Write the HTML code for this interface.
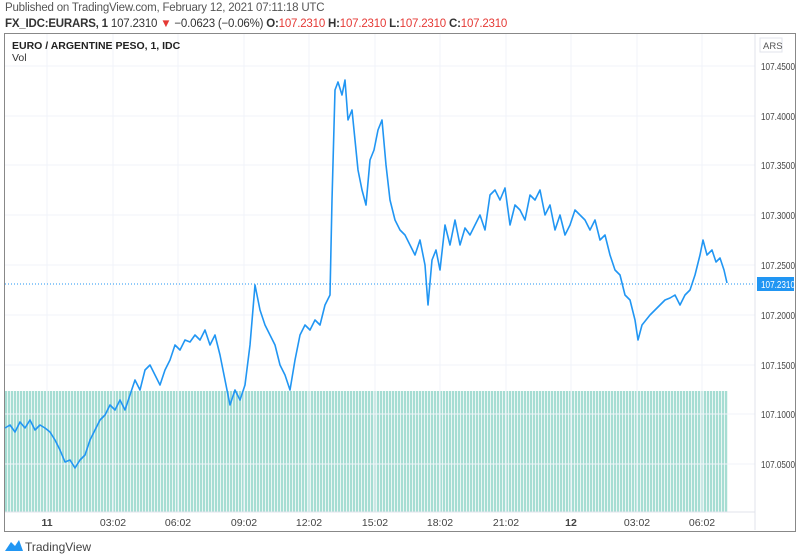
<!DOCTYPE html>
<html><head><style>
body{margin:0;width:800px;height:560px;background:#fff;font-family:"Liberation Sans",sans-serif;position:relative;overflow:hidden}
.t{position:absolute;white-space:nowrap}
</style></head><body>
<div class="t" style="left:5px;top:2px;font-size:11.5px;color:#555;letter-spacing:-0.2px">Published on TradingView.com, February 12, 2021 07:11:18 UTC</div>
<div class="t" style="left:5px;top:18px;font-size:11.5px;color:#333;letter-spacing:-0.2px"><b>FX_IDC:EURARS, 1</b> 107.2310 <span style="color:#e53935">▼</span> −0.0623 (−0.06%) <b>O:</b><span style="color:#e53935">107.2310</span> <b>H:</b><span style="color:#e53935">107.2310</span> <b>L:</b><span style="color:#e53935">107.2310</span> <b>C:</b><span style="color:#e53935">107.2310</span></div>
<div style="position:absolute;left:4px;top:33px;width:790px;height:497px;border:1px solid #888"></div>
<div style="position:absolute;left:5px;top:391px;width:723px;height:121px;background:repeating-linear-gradient(90deg,#a6ddd3 0,#a6ddd3 2px,#eaf7f4 2px,#eaf7f4 3px)"></div>
<svg style="position:absolute;left:0;top:0" width="800" height="560">
<g stroke="#f0f3fa" stroke-width="1">
<line x1="5" x2="755" y1="66" y2="66"/><line x1="5" x2="755" y1="116" y2="116"/><line x1="5" x2="755" y1="165" y2="165"/><line x1="5" x2="755" y1="215" y2="215"/><line x1="5" x2="755" y1="265" y2="265"/><line x1="5" x2="755" y1="315" y2="315"/><line x1="5" x2="755" y1="365" y2="365"/><line x1="5" x2="755" y1="414" y2="414"/><line x1="5" x2="755" y1="464" y2="464"/>
<line x1="47" x2="47" y1="34" y2="512"/><line x1="113" x2="113" y1="34" y2="512"/><line x1="178" x2="178" y1="34" y2="512"/><line x1="244" x2="244" y1="34" y2="512"/><line x1="309" x2="309" y1="34" y2="512"/><line x1="375" x2="375" y1="34" y2="512"/><line x1="440" x2="440" y1="34" y2="512"/><line x1="506" x2="506" y1="34" y2="512"/><line x1="571" x2="571" y1="34" y2="512"/><line x1="637" x2="637" y1="34" y2="512"/><line x1="702" x2="702" y1="34" y2="512"/>
</g>
<line x1="755" x2="755" y1="34" y2="530" stroke="#e0e3eb"/>
<line x1="5" x2="755" y1="512" y2="512" stroke="#e0e3eb"/>
<line x1="5" x2="755" y1="284" y2="284" stroke="#2196f3" stroke-dasharray="1,2" stroke-width="1"/>
<polyline fill="none" stroke="#2196f3" stroke-width="1.6" stroke-linejoin="round" points="5,428 10,425 15,432 20,422 25,428 30,420 35,430 40,425 45,428 50,432 55,440 60,450 65,462 70,460 75,468 80,460 85,455 90,440 95,430 100,420 105,415 110,405 115,410 120,400 125,410 130,395 135,380 140,390 145,370 150,365 155,375 160,385 165,370 170,360 175,345 180,350 185,340 190,342 195,335 200,340 205,330 210,345 215,335 220,355 225,380 230,405 235,390 240,400 245,385 250,345 255,285 260,310 265,325 270,335 275,345 280,365 285,375 290,390 295,360 300,335 305,325 310,330 315,320 320,325 325,305 330,295 332,200 335,90 338,82 342,95 345,80 348,120 352,110 355,140 358,170 362,190 366,205 370,160 374,150 378,130 382,120 386,165 390,200 395,220 400,230 405,235 410,245 415,255 420,240 425,265 428,305 432,260 436,250 440,270 445,225 450,245 455,220 460,245 465,228 470,235 475,225 480,215 485,230 490,195 495,190 500,200 505,188 510,225 515,205 520,210 525,220 530,195 535,200 540,190 545,215 550,205 555,230 560,215 565,235 570,225 575,210 580,215 585,220 590,230 595,220 600,240 605,235 610,255 615,270 620,275 625,295 630,300 635,320 638,340 642,325 646,320 650,315 655,310 660,305 665,300 670,298 675,295 680,305 685,295 690,290 695,275 700,255 703,240 707,255 712,250 716,262 720,258 724,270 727,283"/>
<g font-size="10.5" fill="#444" font-family="Liberation Sans,sans-serif">
<text x="761" y="70" textLength="34" lengthAdjust="spacingAndGlyphs">107.4500</text><text x="761" y="120" textLength="34" lengthAdjust="spacingAndGlyphs">107.4000</text><text x="761" y="169" textLength="34" lengthAdjust="spacingAndGlyphs">107.3500</text><text x="761" y="219" textLength="34" lengthAdjust="spacingAndGlyphs">107.3000</text><text x="761" y="269" textLength="34" lengthAdjust="spacingAndGlyphs">107.2500</text><text x="761" y="319" textLength="34" lengthAdjust="spacingAndGlyphs">107.2000</text><text x="761" y="369" textLength="34" lengthAdjust="spacingAndGlyphs">107.1500</text><text x="761" y="418" textLength="34" lengthAdjust="spacingAndGlyphs">107.1000</text><text x="761" y="468" textLength="34" lengthAdjust="spacingAndGlyphs">107.0500</text>
</g>
<rect x="757" y="277" width="37" height="14" fill="#2196f3"/>
<text x="761" y="288" font-size="10.5" fill="#fff" font-family="Liberation Sans,sans-serif" textLength="34" lengthAdjust="spacingAndGlyphs">107.2310</text>
<rect x="760" y="38" width="22" height="14" fill="#fff" stroke="#e0e3eb"/>
<text x="763" y="49" font-size="9.5" fill="#555" font-family="Liberation Sans,sans-serif">ARS</text>
<g font-size="10.5" fill="#444" font-family="Liberation Sans,sans-serif" text-anchor="middle">
<text x="47" y="526" font-weight="bold">11</text><text x="113" y="526">03:02</text><text x="178" y="526">06:02</text><text x="244" y="526">09:02</text><text x="309" y="526">12:02</text><text x="375" y="526">15:02</text><text x="440" y="526">18:02</text><text x="506" y="526">21:02</text><text x="571" y="526" font-weight="bold">12</text><text x="637" y="526">03:02</text><text x="702" y="526">06:02</text>
</g>
<path d="M5,551 L11,542 L15,546 L19,540 L23,551 Z" fill="#2196f3"/>
</svg>
<div class="t" style="left:12px;top:40px;font-size:10.5px;font-weight:bold;color:#222">EURO / ARGENTINE PESO, 1, IDC</div>
<div class="t" style="left:12px;top:52px;font-size:10.5px;color:#333">Vol</div>
<div class="t" style="left:25px;top:540px;font-size:12px;color:#444">TradingView</div>
</body></html>
